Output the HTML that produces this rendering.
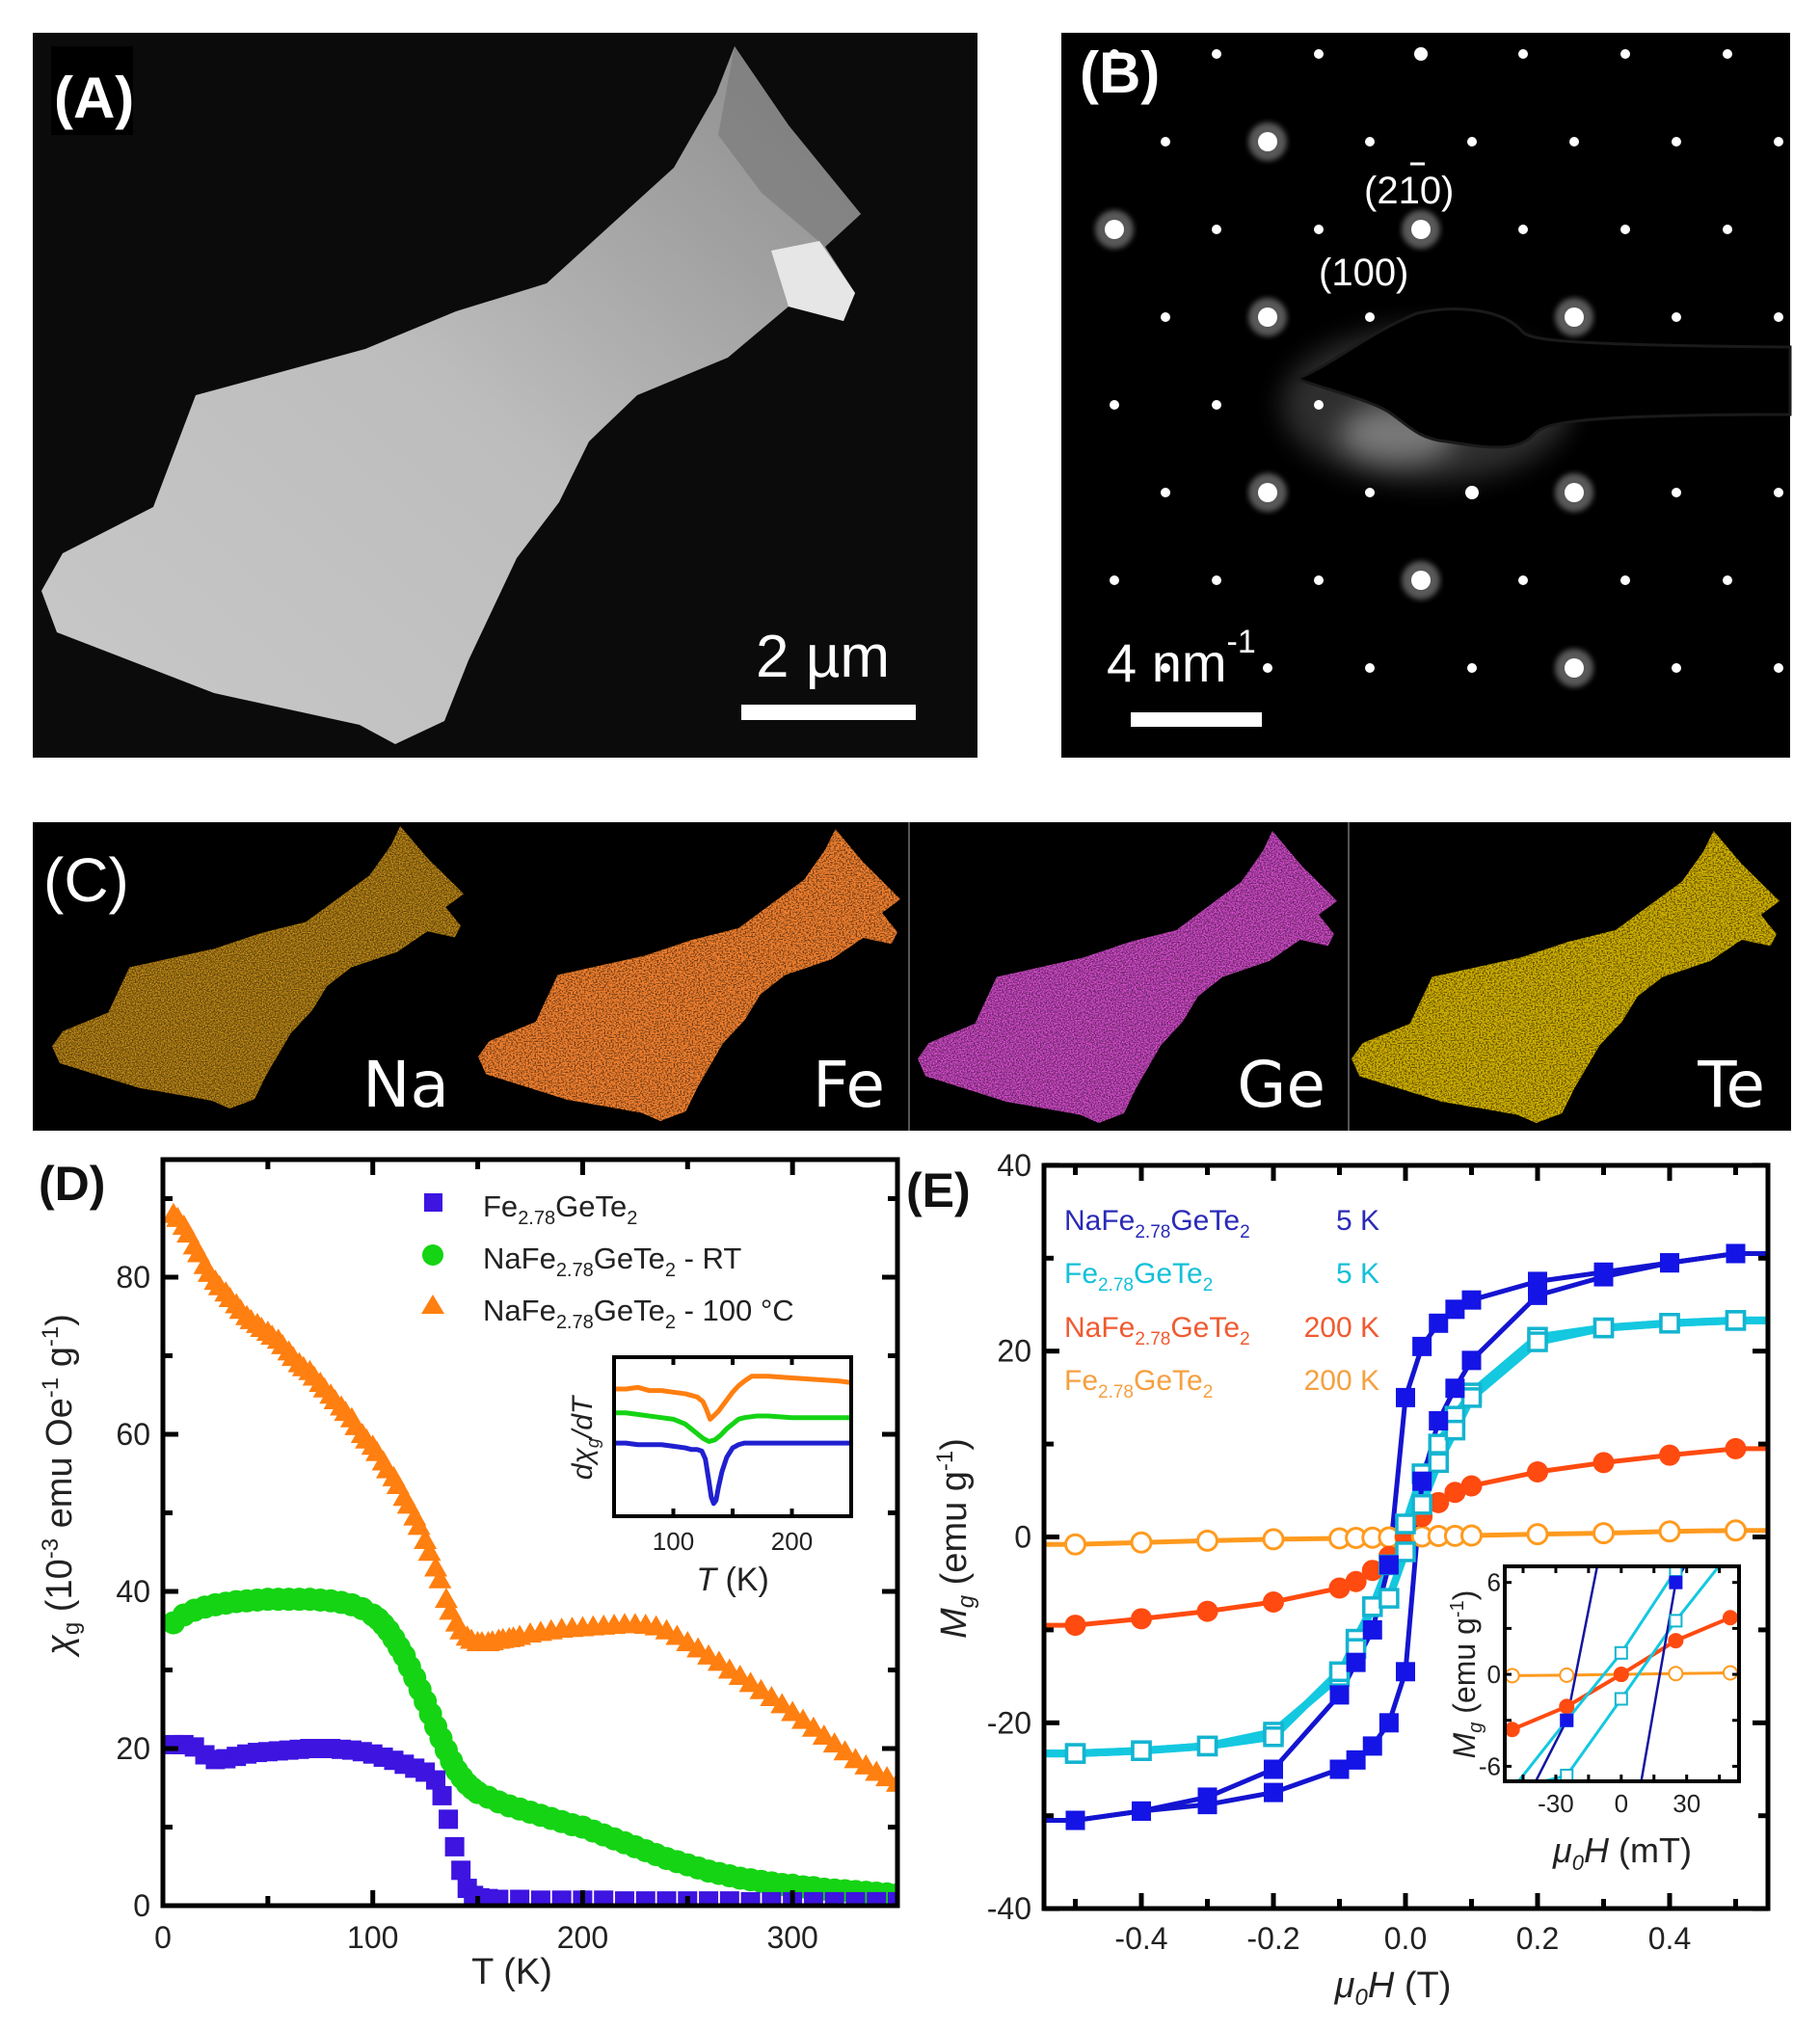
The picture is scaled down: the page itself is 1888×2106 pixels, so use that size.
<!DOCTYPE html>
<html><head><meta charset="utf-8">
<style>
html,body{margin:0;padding:0;background:#fff;overflow:hidden;width:1888px;height:2106px;}
svg{display:block;font-family:"Liberation Sans",Arial,sans-serif;}
</style></head>
<body>
<svg id="fig" width="1888" height="2106" viewBox="0 0 1888 2106" xmlns="http://www.w3.org/2000/svg">
<defs>
<filter id="speck" x="0" y="0" width="100%" height="100%">
<feTurbulence type="fractalNoise" baseFrequency="0.35" numOctaves="2" seed="3" result="n"/>
<feColorMatrix in="n" type="matrix" values="0 0 0 0 0  0 0 0 0 0  0 0 0 0 0  0 0 0 -3.2 2.1" result="a"/>
<feComposite in="SourceGraphic" in2="a" operator="in"/>
</filter>
<filter id="speck2" x="0" y="0" width="100%" height="100%">
<feTurbulence type="fractalNoise" baseFrequency="0.3" numOctaves="2" seed="7" result="n"/>
<feColorMatrix in="n" type="matrix" values="0 0 0 0 0  0 0 0 0 0  0 0 0 0 0  0 0 0 -5 3.3" result="a"/>
<feComposite in="SourceGraphic" in2="a" operator="in"/>
</filter>
<filter id="glow"><feGaussianBlur stdDeviation="3"/></filter>
<filter id="bigglow" x="-50%" y="-50%" width="200%" height="200%"><feGaussianBlur stdDeviation="14"/></filter>
<linearGradient id="semg" x1="0" y1="1" x2="1" y2="0">
<stop offset="0" stop-color="#c8c8c8"/><stop offset="0.5" stop-color="#bdbdbd"/><stop offset="1" stop-color="#8a8a8a"/>
</linearGradient>
<clipPath id="clipB"><rect x="1101" y="34" width="756" height="752"/></clipPath>
<clipPath id="clipD"><rect x="169" y="1203" width="762" height="774"/></clipPath>
<clipPath id="clipE"><rect x="1083" y="1209" width="751" height="771"/></clipPath>
<clipPath id="clipEi"><rect x="1561" y="1625" width="243" height="223"/></clipPath>
<clipPath id="clipDi"><rect x="637" y="1408" width="246" height="165"/></clipPath>
</defs>

<!-- Panel A -->
<g>
<rect x="34" y="34" width="980" height="752" fill="#0b0b0b"/>
<polygon fill="url(#semg)" points="762,48 818,130 893,222 856,256 887,304 875,333 818,318 755,371 661,410 611,458 580,521 536,579 486,685 461,748 410,772 373,752 222,719 59,656 43,613 65,574 159,526 203,410 379,362 473,323 567,294 699,174 743,97"/>
<polygon fill="#777" opacity="0.6" points="762,48 818,130 893,222 856,256 790,200 745,140"/>
<polygon fill="#e6e6e6" points="800,260 850,250 887,304 875,333 818,318"/>
<rect x="53" y="48" width="85" height="92" fill="#000"/>
<text x="56" y="122" font-size="60" font-weight="bold" fill="#fff">(A)</text>
<text x="784" y="702" font-size="62" fill="#fff">2 µm</text>
<rect x="769" y="731" width="181" height="16" fill="#fff"/>
</g>

<!-- Panel B -->
<g>
<rect x="1101" y="34" width="756" height="752" fill="#000"/>
<ellipse cx="1480" cy="420" rx="150" ry="80" fill="#555" opacity="0.55" filter="url(#bigglow)" clip-path="url(#clipB)"/>
<ellipse cx="1450" cy="450" rx="60" ry="30" fill="#aaa" opacity="0.6" filter="url(#bigglow)" clip-path="url(#clipB)"/>
<g id="spots" clip-path="url(#clipB)"></g>
<path fill="#000" stroke="#1a1a1a" stroke-width="3" d="M1345,393 C1380,380 1420,345 1470,325 C1510,316 1560,320 1580,345 C1590,352 1610,358 1857,360 L1857,430 C1620,430 1600,440 1590,452 C1570,472 1530,462 1500,458 C1470,455 1460,440 1440,427 C1420,415 1380,405 1345,393 Z"/>
<text x="1120" y="96" font-size="60" font-weight="bold" fill="#fff">(B)</text>
<text x="1415" y="211" font-size="40" fill="#fff">(210)</text>
<line x1="1463" y1="170" x2="1478" y2="170" stroke="#fff" stroke-width="3"/>
<text x="1368" y="296" font-size="40" fill="#fff">(100)</text>
<text x="1148" y="707" font-size="56" fill="#fff">4 nm<tspan font-size="34" dy="-30">-1</tspan></text>
<rect x="1173" y="739" width="136" height="15" fill="#fff"/>
</g>

<!-- Panel C -->
<g>
<rect x="34" y="853" width="1824" height="320" fill="#000"/>
<line x1="943" y1="853" x2="943" y2="1173" stroke="#555" stroke-width="2"/>
<line x1="1399" y1="853" x2="1399" y2="1173" stroke="#555" stroke-width="2"/>
<g id="cmaps"></g>
<text x="45" y="935" font-size="64" fill="#fff">(C)</text>
<g font-family="DejaVu Sans, sans-serif" font-size="66" fill="#fff" text-anchor="end">
<text x="466" y="1148">Na</text>
<text x="918" y="1148">Fe</text>
<text x="1375" y="1148">Ge</text>
<text x="1831" y="1148">Te</text>
</g>
</g>

<!-- Panel D -->
<g id="panelD"></g>
<!-- Panel E -->
<g id="panelE"></g>
</svg>

<script>
// ---------- Panel D data ----------
const dT_orange = [5,7,10,12,15,17,20,22,25,27,30,32,35,37,40,42,45,47,50,52,55,57,60,62,65,67,70,72,75,77,80,82,85,87,90,92,95,97,100,102,105,107,110,112,115,117,120,122,125,127,130,132,135,137,140,142,145,147,150,152,155,157,160,162,165,167,170,175,180,185,190,195,200,205,210,215,220,225,230,235,240,245,250,255,260,265,270,275,280,285,290,295,300,305,310,315,320,325,330,335,340,345,350];
const dV_orange = [88,87.5,86.5,85.5,84,83,81.5,80.5,79.5,78.8,78,77.3,76.5,75.8,75,74.5,74,73.5,73,72.5,72,71.3,70.5,69.8,69,68.5,68,67.3,66.5,65.8,65,64.3,63.5,62.8,62,61,60,59.3,58.5,57.7,56.5,55.5,54.5,53.5,52,51,49.5,48.3,46.5,45,43,41.5,39,37.5,36,35,34.2,33.8,33.5,33.5,33.5,33.6,33.8,33.9,34,34.1,34.3,34.6,34.8,35,35.2,35.3,35.4,35.5,35.6,35.7,35.8,35.8,35.7,35.5,35,34.3,33.5,32.7,31.8,31,30,29.2,28.3,27.4,26.5,25.6,24.6,23.6,22.6,21.6,20.6,19.6,18.6,17.8,17,16.3,15.6];
const dT_green = [5,10,15,20,25,30,35,40,45,50,55,60,65,70,75,80,85,90,95,100,102.5,105,107.5,110,112.5,115,117.5,120,122.5,125,127.5,130,132.5,135,137.5,140,142.5,145,147.5,150,155,160,165,170,175,180,185,190,195,200,205,210,215,220,225,230,235,240,245,250,255,260,265,270,275,280,285,290,295,300,305,310,315,320,325,330,335,340,345,350];
const dV_green = [36,37,37.6,38,38.3,38.5,38.7,38.8,38.9,39,39,39,39,39,38.9,38.8,38.6,38.3,37.8,37,36.5,35.8,35,34,32.9,31.8,30.4,29,27.5,26,24.4,22.8,21.3,19.8,18.4,17.2,16.3,15.5,14.9,14.4,13.8,13.2,12.7,12.3,11.9,11.5,11.1,10.7,10.3,10,9.5,9,8.5,8,7.5,7,6.5,6,5.6,5.2,4.8,4.4,4.1,3.8,3.5,3.3,3.1,2.9,2.7,2.6,2.4,2.3,2.1,2,1.9,1.8,1.7,1.6,1.5,1.4];
const dT_blue = [5,10,15,20,25,30,35,40,45,50,55,60,65,70,75,80,85,90,95,100,105,110,115,120,125,130,133,136,139,142,145,148,151,155,160,170,180,190,200,210,220,230,240,250,260,270,280,290,300,310,320,330,340,350];
const dV_blue = [20.5,20.5,20.2,19.2,18.6,18.7,19,19.3,19.5,19.6,19.7,19.8,19.9,20,20,20,19.9,19.8,19.6,19.3,18.9,18.5,18,17.5,17,16,14,11,7.5,4.5,2.2,1.3,1,0.9,0.8,0.8,0.7,0.7,0.7,0.7,0.6,0.6,0.6,0.6,0.6,0.6,0.5,0.5,0.5,0.5,0.5,0.5,0.5,0.5];
const dXTicks = [0,100,200,300];
const dYTicks = [0,20,40,60,80];
const iT_orange = [50,60,70,80,90,100,110,115,120,125,128,131,134,138,142,146,150,155,160,166,180,200,220,240,250];
const iV_orange = [0.80,0.80,0.81,0.79,0.79,0.78,0.77,0.76,0.75,0.72,0.67,0.61,0.63,0.66,0.70,0.74,0.78,0.82,0.85,0.88,0.88,0.87,0.86,0.85,0.84];
const iT_green = [50,60,70,80,90,100,110,115,120,125,130,135,140,145,150,155,160,170,180,200,220,250];
const iV_green = [0.65,0.65,0.64,0.63,0.62,0.61,0.58,0.55,0.52,0.49,0.47,0.48,0.51,0.55,0.58,0.61,0.62,0.63,0.63,0.62,0.62,0.62];
const iT_blue = [50,60,70,80,90,100,110,115,120,124,127,130,132,134,136,138,141,145,150,155,160,170,200,250];
const iV_blue = [0.46,0.46,0.45,0.45,0.45,0.44,0.43,0.42,0.42,0.41,0.36,0.22,0.12,0.08,0.10,0.18,0.28,0.37,0.43,0.45,0.46,0.46,0.46,0.46];
const iXTicks = [100,200];

// ---------- Panel E data ----------
const eH = [-0.5,-0.4,-0.3,-0.2,-0.1,-0.075,-0.05,-0.025,0,0.025,0.05,0.075,0.1,0.2,0.3,0.4,0.5];
const eBlueDesc = [-30.5,-29.5,-28,-25,-17,-13.5,-10,-3,15,20.5,23,24.5,25.5,27.5,28.5,29.5,30.5];
const eBlueAsc  = [-30.5,-29.5,-28.8,-27.5,-25,-24,-22.5,-20,-14.5,6,12.5,16,19,26,28,29.5,30.5];
const eCyanDesc = [-23.3,-23,-22.5,-21,-15,-11,-7.5,-3,1.4,6.8,10,13,15.5,21.5,22.5,23,23.3];
const eCyanAsc  = [-23.3,-23,-22.5,-21.5,-14.5,-12,-7.5,-6.6,-1.6,3.5,8,11.5,15,21,22.5,23,23.3];
const eRed      = [-9.5,-8.8,-8,-7,-5.5,-4.8,-3.6,-2.1,0,2.2,3.7,4.8,5.5,7,8,8.8,9.5];
const eOrange   = [-0.8,-0.6,-0.4,-0.25,-0.15,-0.1,-0.08,-0.05,0,0.05,0.1,0.12,0.15,0.3,0.4,0.6,0.7];
const eXTicks = [-0.4,-0.2,0.0,0.2,0.4];
const eXTickLabels = ["-0.4","-0.2","0.0","0.2","0.4"];
const eYTicks = [-40,-20,0,20,40];
const eiXTicks = [-30,0,30];
const eiYTicks = [-6,0,6];

const NS = "http://www.w3.org/2000/svg";
function mk(parent, tag, attrs, txt){
  const e = document.createElementNS(NS, tag);
  for (const k in attrs) e.setAttribute(k, attrs[k]);
  if (txt !== undefined) e.textContent = txt;
  parent.appendChild(e); return e;
}

(function(){
  const g = document.getElementById('spots');
  const bright = [[1317,143],[1159,229],[1474,238],[1318,324],[1632,333],[1319,504],[1634,514],[1477,599],[1637,694]];
  const med = [[1531,511],[1473,59]];
  for (let r=-3;r<=7;r++){
    for (let c=-7;c<=6;c++){
      const x = 1474 + c*106 + ((Math.abs(r)%2)===1 ? -53 : 0);
      const y = 238 + r*91;
      if (x<1105||x>1855||y<38||y>782) continue;
      const isB = bright.some(p=>Math.hypot(p[0]-x,p[1]-y)<30);
      const isM = med.some(p=>Math.hypot(p[0]-x,p[1]-y)<30);
      if (isB) mk(g,'circle',{cx:x,cy:y,r:20,fill:'#fff',opacity:0.35,filter:'url(#glow)'});
      const s = mk(g,'circle',{cx:x,cy:y,r:isB?10:(isM?7:5),fill:'#fff'});
      
      
    }
  }
})();

(function(){
  const g = document.getElementById('cmaps');
  const pts = "762,48 818,130 893,222 856,256 887,304 875,333 818,318 755,371 661,410 611,458 580,521 536,579 486,685 461,748 410,772 373,752 222,719 59,656 43,613 65,574 159,526 203,410 379,362 473,323 567,294 699,174 743,97";
  const maps = [["na",54,857,481,1150,"#c99018","speck"],["fe",496,860,934,1163,"#f2802e","speck2"],["ge",952,862,1387,1165,"#e050d8","speck"],["te",1402,862,1846,1165,"#d0b000","speck2"]];
  maps.forEach(m=>{
    const sx=(m[3]-m[1])/850, sy=(m[4]-m[2])/724;
    const gg = mk(g,'g',{transform:`translate(${m[1]},${m[2]}) scale(${sx},${sy}) translate(-43,-48)`});
    
    
    mk(gg,'polygon',{points:pts,fill:m[5],opacity:0.45});
    mk(gg,'polygon',{points:pts,fill:m[5],filter:`url(#${m[6]})`});
  });
})();

(function(){
  const g = document.getElementById('panelD');
  const L=169,R=931,T=1203,B=1977;
  const X = t => L + t*(R-L)/350;
  const Y = v => B - v*8.15;
  const pl = mk(g,'g',{'clip-path':'url(#clipD)'});
  dT_orange.forEach((t,i)=>{
    const x=X(t),y=Y(dV_orange[i]);
    const p=mk(pl,'polygon',{points:`${x},${y-12} ${x-12},${y+9} ${x+12},${y+9}`,fill:'#ff7f10'});
    
    
  });
  dT_green.forEach((t,i)=>{
    const c=mk(pl,'circle',{cx:X(t),cy:Y(dV_green[i]),r:12,fill:'#14d414'});
    
    
  });
  dT_blue.forEach((t,i)=>{
    const r=mk(pl,'rect',{x:X(t)-10,y:Y(dV_blue[i])-10,width:20,height:20,fill:'#3d14e0'});
    
    
  });
  const fr=mk(g,'rect',{x:L,y:T,width:R-L,height:B-T,fill:'none',stroke:'#000','stroke-width':5});
  
  
  for(let t=0;t<=350;t+=50){
    const len = (t%100===0)?16:10;
    mk(g,'line',{x1:X(t),y1:B,x2:X(t),y2:B-len,stroke:'#000','stroke-width':5});
    mk(g,'line',{x1:X(t),y1:T,x2:X(t),y2:T+len,stroke:'#000','stroke-width':5});
  }
  for(let v=0;v<=90;v+=10){
    const len=(v%20===0)?16:10;
    mk(g,'line',{x1:L,y1:Y(v),x2:L+len,y2:Y(v),stroke:'#000','stroke-width':5});
    mk(g,'line',{x1:R,y1:Y(v),x2:R-len,y2:Y(v),stroke:'#000','stroke-width':5});
  }
  dXTicks.forEach(t=>{
    const e=mk(g,'text',{x:X(t),y:2021,'font-size':32,'text-anchor':'middle',fill:'#222'},String(t));
    
    
  });
  dYTicks.forEach(v=>{
    const e=mk(g,'text',{x:156,y:Y(v)+11,'font-size':32,'text-anchor':'end',fill:'#222'},String(v));
    
    
  });
  const xt=mk(g,'text',{x:531,y:2058,'font-size':38,'text-anchor':'middle',fill:'#222'},'T (K)');
  
  
  const yt=mk(g,'text',{x:0,y:0,'font-size':38,'text-anchor':'middle',fill:'#222',transform:'translate(74,1540) rotate(-90)'});
  
  
  yt.innerHTML='<tspan font-style="italic">χ</tspan><tspan font-size="24" dy="8">g</tspan><tspan dy="-8"> (10</tspan><tspan font-size="24" dy="-14">-3</tspan><tspan dy="14"> emu Oe</tspan><tspan font-size="24" dy="-14">-1</tspan><tspan dy="14"> g</tspan><tspan font-size="24" dy="-14">-1</tspan><tspan dy="14">)</tspan>';
  const pd=mk(g,'text',{x:40,y:1245,'font-size':50,'font-weight':'bold',fill:'#111'},'(D)');
  
  
  const lg=mk(g,'g',{});
  
  
  mk(lg,'rect',{x:440,y:1238,width:19,height:19,fill:'#3d14e0'});
  mk(lg,'circle',{cx:449,cy:1302,r:11,fill:'#14d414'});
  mk(lg,'polygon',{points:'449,1343 437,1363 461,1363',fill:'#ff7f10'});
  const l1=mk(lg,'text',{x:501,y:1262,'font-size':31,fill:'#222'});
  l1.innerHTML='Fe<tspan font-size="20" dy="8">2.78</tspan><tspan dy="-8">GeTe</tspan><tspan font-size="20" dy="8">2</tspan>';
  const l2=mk(lg,'text',{x:501,y:1316,'font-size':31,fill:'#222'});
  l2.innerHTML='NaFe<tspan font-size="20" dy="8">2.78</tspan><tspan dy="-8">GeTe</tspan><tspan font-size="20" dy="8">2</tspan><tspan dy="-8"> - RT</tspan>';
  const l3=mk(lg,'text',{x:501,y:1370,'font-size':31,fill:'#222'});
  l3.innerHTML='NaFe<tspan font-size="20" dy="8">2.78</tspan><tspan dy="-8">GeTe</tspan><tspan font-size="20" dy="8">2</tspan><tspan dy="-8"> - 100 °C</tspan>';
  const iL=637,iR=883,iT=1408,iB=1573;
  const IX=t=>iL+(t-50)*(iR-iL)/200, IY=f=>iB-f*(iB-iT);
  const ig=mk(g,'g',{});
  
  
  mk(ig,'rect',{x:iL,y:iT,width:iR-iL,height:iB-iT,fill:'#fff'});
  const ic=mk(ig,'g',{'clip-path':'url(#clipDi)'});
  [[iT_orange,iV_orange,'#ff7f10','inset-line-nafe-100c'],[iT_green,iV_green,'#14d414','inset-line-nafe-rt'],[iT_blue,iV_blue,'#2020d0','inset-line-fe-gete']].forEach(s=>{
    const p=mk(ic,'polyline',{points:s[0].map((t,i)=>IX(t)+','+IY(s[1][i])).join(' '),fill:'none',stroke:s[2],'stroke-width':5,'stroke-linejoin':'round'});
    
    
  });
  mk(ig,'rect',{x:iL,y:iT,width:iR-iL,height:iB-iT,fill:'none',stroke:'#000','stroke-width':4});
  [100,150,200].forEach(t=>{
    mk(ig,'line',{x1:IX(t),y1:iB,x2:IX(t),y2:iB-8,stroke:'#000','stroke-width':4});
    mk(ig,'line',{x1:IX(t),y1:iT,x2:IX(t),y2:iT+8,stroke:'#000','stroke-width':4});
  });
  iXTicks.forEach(t=>{
    const e=mk(ig,'text',{x:IX(t),y:1608,'font-size':26,'text-anchor':'middle',fill:'#222'},String(t));
    
    
  });
  const ix=mk(ig,'text',{x:760,y:1650,'font-size':34,'text-anchor':'middle',fill:'#222'});
  ix.innerHTML='<tspan font-style="italic">T</tspan> (K)';
  const iy=mk(ig,'text',{x:0,y:0,'font-size':30,'text-anchor':'middle',fill:'#222',transform:'translate(614,1492) rotate(-90)'});
  iy.innerHTML='<tspan font-style="italic">dχ</tspan><tspan font-size="18" dy="7" font-style="italic">g</tspan><tspan dy="-7" font-style="italic">/dT</tspan>';
})();

(function(){
  const g=document.getElementById('panelE');
  const L=1083,R=1834,T=1209,B=1980;
  const X=h=>1458+h*685, Y=m=>1594.5-m*9.64;
  const pl=mk(g,'g',{'clip-path':'url(#clipE)'});
  function line(arr,col,w,name){
    const pts=[[-0.56,arr[0]]].concat(eH.map((h,i)=>[h,arr[i]])).concat([[0.56,arr[arr.length-1]]]);
    const p=mk(pl,'polyline',{points:pts.map(q=>X(q[0])+','+Y(q[1])).join(' '),fill:'none',stroke:col,'stroke-width':w,'stroke-linejoin':'round'});
    
    
  }
  line(eOrange,'#ff9a1e',5,'line-fe-gete-200k');
  line(eRed,'#ff4a10',5,'line-nafe-200k');
  line(eCyanDesc,'#14c8e0',8,'line-fe-gete-5k-desc');
  line(eCyanAsc,'#14c8e0',8,'line-fe-gete-5k-asc');
  line(eBlueDesc,'#1414d0',5,'line-nafe-5k-desc');
  line(eBlueAsc,'#1414d0',5,'line-nafe-5k-asc');
  eH.forEach((h,i)=>{
    let c=mk(pl,'circle',{cx:X(h),cy:Y(eOrange[i]),r:10,fill:'#fff',stroke:'#ff9a1e','stroke-width':3});
    
    
    c=mk(pl,'circle',{cx:X(h),cy:Y(eRed[i]),r:11,fill:'#ff4a10'});
    
    
  });
  eH.forEach((h,i)=>{
    [eCyanDesc,eCyanAsc].forEach(a=>{
      const r=mk(pl,'rect',{x:X(h)-9,y:Y(a[i])-9,width:18,height:18,fill:'#fff',stroke:'#14b4d0','stroke-width':3.5});
      
      
    });
  });
  eH.forEach((h,i)=>{
    [eBlueDesc,eBlueAsc].forEach(a=>{
      const r=mk(pl,'rect',{x:X(h)-10,y:Y(a[i])-10,width:20,height:20,fill:'#1414e6'});
      
      
    });
  });
  const fr=mk(g,'rect',{x:L,y:T,width:R-L,height:B-T,fill:'none',stroke:'#000','stroke-width':5});
  
  
  for(let k=-5;k<=5;k++){
    const h=k/10, len=(k%2===0)?16:10;
    mk(g,'line',{x1:X(h),y1:B,x2:X(h),y2:B-len,stroke:'#000','stroke-width':5});
    mk(g,'line',{x1:X(h),y1:T,x2:X(h),y2:T+len,stroke:'#000','stroke-width':5});
  }
  for(let m=-40;m<=40;m+=10){
    const len=(m%20===0)?16:10;
    mk(g,'line',{x1:L,y1:Y(m),x2:L+len,y2:Y(m),stroke:'#000','stroke-width':5});
    mk(g,'line',{x1:R,y1:Y(m),x2:R-len,y2:Y(m),stroke:'#000','stroke-width':5});
  }
  eXTicks.forEach((h,i)=>{
    const e=mk(g,'text',{x:X(h),y:2022,'font-size':32,'text-anchor':'middle',fill:'#222'},eXTickLabels[i]);
    
    
  });
  eYTicks.forEach(m=>{
    const e=mk(g,'text',{x:1070,y:Y(m)+11,'font-size':32,'text-anchor':'end',fill:'#222'},String(m));
    
    
  });
  const xt=mk(g,'text',{x:1445,y:2072,'font-size':38,'text-anchor':'middle',fill:'#222'});
  
  
  xt.innerHTML='<tspan font-style="italic">μ</tspan><tspan font-size="24" dy="8" font-style="italic">0</tspan><tspan dy="-8" font-style="italic">H</tspan> (T)';
  const yt=mk(g,'text',{x:0,y:0,'font-size':38,'text-anchor':'middle',fill:'#222',transform:'translate(1002,1596) rotate(-90)'});
  
  
  yt.innerHTML='<tspan font-style="italic">M</tspan><tspan font-size="24" dy="8" font-style="italic">g</tspan><tspan dy="-8"> (emu g</tspan><tspan font-size="24" dy="-14">-1</tspan><tspan dy="14">)</tspan>';
  const pe=mk(g,'text',{x:940,y:1252,'font-size':50,'font-weight':'bold',fill:'#111'},'(E)');
  
  
  const lg=mk(g,'g',{});
  
  
  const rows=[['NaFe','5 K','#2a2ab8',1276],['Fe','5 K','#14c0d8',1331],['NaFe','200 K','#f05a30',1387],['Fe','200 K','#f5a040',1442]];
  rows.forEach(r=>{
    const t=mk(lg,'text',{x:1104,y:r[3],'font-size':30,fill:r[2]});
    t.innerHTML=r[0]+'<tspan font-size="19" dy="8">2.78</tspan><tspan dy="-8">GeTe</tspan><tspan font-size="19" dy="8">2</tspan>';
    mk(lg,'text',{x:1431,y:r[3],'font-size':30,fill:r[2],'text-anchor':'end'},r[1]);
  });
  const iL=1561,iR=1804,iT=1625,iB=1848;
  const IX=mt=>iL+(mt+53.4)*(iR-iL)/107.4, IY=m=>iB-(m+6.98)*(iB-iT)/14.03;
  const ig=mk(g,'g',{});
  
  
  mk(ig,'rect',{x:iL,y:iT,width:iR-iL,height:iB-iT,fill:'#fff'});
  const ic=mk(ig,'g',{'clip-path':'url(#clipEi)'});
  function il(arr,col,w){
    mk(ic,'polyline',{points:eH.map((h,i)=>IX(h*1000)+','+IY(arr[i])).join(' '),fill:'none',stroke:col,'stroke-width':w});
  }
  il(eOrange,'#ff9a1e',3);il(eRed,'#ff4a10',4);il(eCyanDesc,'#14c8e0',3);il(eCyanAsc,'#14c8e0',3);il(eBlueDesc,'#1414a0',2.5);il(eBlueAsc,'#1414a0',2.5);
  eH.forEach((h,i)=>{
    const x=IX(h*1000);
    let c=mk(ic,'circle',{cx:x,cy:IY(eOrange[i]),r:7,fill:'#fff',stroke:'#ff9a1e','stroke-width':2});
    
    
    c=mk(ic,'circle',{cx:x,cy:IY(eRed[i]),r:8,fill:'#ff4a10'});
    
    
    [eCyanDesc,eCyanAsc].forEach(a=>{
      const r=mk(ic,'rect',{x:x-6,y:IY(a[i])-6,width:12,height:12,fill:'#fff',stroke:'#14b4d0','stroke-width':2});
      
      
    });
    [eBlueDesc,eBlueAsc].forEach(a=>{
      const r=mk(ic,'rect',{x:x-7,y:IY(a[i])-7,width:14,height:14,fill:'#1414e6'});
      
      
    });
  });
  mk(ig,'rect',{x:iL,y:iT,width:iR-iL,height:iB-iT,fill:'none',stroke:'#000','stroke-width':4});
  [-45,-30,-15,0,15,30,45].forEach(t=>{
    mk(ig,'line',{x1:IX(t),y1:iB,x2:IX(t),y2:iB-7,stroke:'#000','stroke-width':3});
    mk(ig,'line',{x1:IX(t),y1:iT,x2:IX(t),y2:iT+7,stroke:'#000','stroke-width':3});
  });
  [-6,-3,0,3,6].forEach(m=>{
    mk(ig,'line',{x1:iL,y1:IY(m),x2:iL+7,y2:IY(m),stroke:'#000','stroke-width':3});
    mk(ig,'line',{x1:iR,y1:IY(m),x2:iR-7,y2:IY(m),stroke:'#000','stroke-width':3});
  });
  eiXTicks.forEach(t=>{
    const e=mk(ig,'text',{x:IX(t),y:1880,'font-size':26,'text-anchor':'middle',fill:'#222'},String(t));
    
    
  });
  eiYTicks.forEach(m=>{
    const e=mk(ig,'text',{x:1557,y:IY(m)+9,'font-size':26,'text-anchor':'end',fill:'#222'},String(m));
    
    
  });
  const ix=mk(ig,'text',{x:1683,y:1932,'font-size':36,'text-anchor':'middle',fill:'#222'});
  ix.innerHTML='<tspan font-style="italic">μ</tspan><tspan font-size="22" dy="8" font-style="italic">0</tspan><tspan dy="-8" font-style="italic">H</tspan> (mT)';
  const iy=mk(ig,'text',{x:0,y:0,'font-size':32,'text-anchor':'middle',fill:'#222',transform:'translate(1530,1737) rotate(-90)'});
  iy.innerHTML='<tspan font-style="italic">M</tspan><tspan font-size="20" dy="7" font-style="italic">g</tspan><tspan dy="-7"> (emu g</tspan><tspan font-size="20" dy="-12">-1</tspan><tspan dy="12">)</tspan>';
})();
</script>
</body></html>
